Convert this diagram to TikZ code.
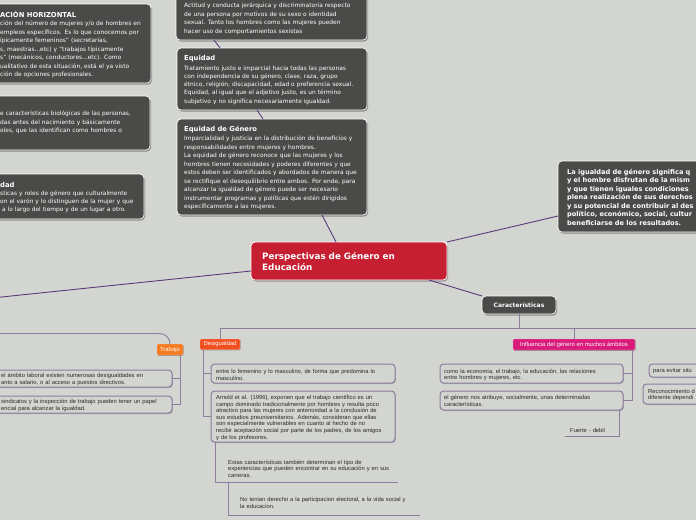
\documentclass[tikz,border=0pt]{standalone}
\usepackage{fontspec}
\setmainfont{DejaVu Sans}
\newfontfamily\lowf{Liberation Sans}
\usetikzlibrary{shadows}
\definecolor{bg}{HTML}{D3D5D1}
\definecolor{dark}{HTML}{4A4A48}
\definecolor{mainline}{HTML}{5C3A7A}
\definecolor{treeline}{HTML}{8E7B9F}
\definecolor{centred}{HTML}{C61F32}
\definecolor{tagred}{HTML}{F24E1E}
\definecolor{tagorange}{HTML}{F47B20}
\definecolor{tagpink}{HTML}{D91B7B}
\definecolor{lowink}{HTML}{2A2A2A}
\begin{document}
\begin{tikzpicture}[x=1pt,y=-1pt,
  darkbox/.style={draw=white, line width=0.7pt, fill=dark, rounded corners=4pt, inner sep=0pt, outer sep=0pt, anchor=north west,
     drop shadow={shadow xshift=1pt, shadow yshift=-1.5pt, opacity=0.35, fill=black}},
  litebox/.style={draw=treeline, line width=1pt, fill=bg, rounded corners=3.5pt, inner sep=0pt, outer sep=0pt, anchor=north west,
     drop shadow={shadow xshift=0.8pt, shadow yshift=-1pt, opacity=0.2, fill=black}},
  tagbox/.style={fill=#1, draw=white!60!#1, line width=0.4pt, rounded corners=1pt, inner sep=0pt, outer sep=0pt, anchor=north west,
     font=\lowf\fontsize{5.9}{6.5}\selectfont, text=white,
     drop shadow={shadow xshift=0.6pt, shadow yshift=-0.8pt, opacity=0.3, fill=black}},
  bodytext/.style={font=\fontsize{5.9}{8.5}\selectfont, text=white, align=left, inner sep=0pt, anchor=base west, text width=300pt},
  lowtext/.style={font=\lowf\fontsize{5.8}{6.6}\selectfont, text=lowink, align=left, inner sep=0pt, anchor=base west, text width=300pt},
  titletext/.style={font=\bfseries\fontsize{6.8}{8}\selectfont, text=white, inner sep=0pt, anchor=base west},
  main/.style={draw=mainline, line width=0.9pt},
  tree/.style={draw=treeline, line width=0.9pt},
]
\useasboundingbox (0,0) rectangle (696,520);
\clip (0,0) rectangle (696,520);
\fill[bg] (0,0) rectangle (696,520);

% ---------- dark boxes ----------
\node[darkbox, minimum width=191pt, minimum height=79pt] (A) at (-40,4) {};
\node[titletext] (At) at (0,17.3) {ACIÓN HORIZONTAL};
\node[bodytext] (Ab) at (0,25.8) {ción del número de mujeres y/o de hombres en\\
empleos específicos. Es lo que conocemos por\\
ípicamente femeninos" (secretarias,\\
s, maestras...etc) y "trabajos típicamente\\
s" (mecánicos, conductores...etc). Como\\
ualitativo de esta situación, está el ya visto\\
ción de opciones profesionales.};

\node[darkbox, minimum width=190pt, minimum height=54pt] (B) at (-40,96) {};
\node[bodytext] (Bb) at (0,115.8) {e características biológicas de las personas,\\
das antes del nacimiento y básicamente\\
oles, que las identifican como hombres o};

\node[darkbox, minimum width=184pt, minimum height=45pt] (C) at (-40,174) {};
\node[titletext] (Ct) at (0,187) {dad};
\node[bodytext, font=\fontsize{5.9}{8.1}\selectfont] (Cb) at (0,195) {sticas y roles de género que culturalmente\\
on el varón y lo distinguen de la mujer y que\\
\ a lo largo del tiempo y de un lugar a otro.};

\node[darkbox, minimum width=191pt, minimum height=60pt] (D) at (176,-20) {};
\node[bodytext] (Db) at (184,7.8) {Actitud y conducta jerárquica y discriminatoria respecto\\
de una persona por motivos de su sexo o identidad\\
sexual. Tanto los hombres como las mujeres pueden\\
hacer uso de comportamientos sexistas};

\node[darkbox, minimum width=190pt, minimum height=62pt] (E) at (177,48) {};
\node[titletext] (Et) at (184,60.8) {Equidad};
\node[bodytext, font=\fontsize{5.9}{8.3}\selectfont] (Eb) at (184,70) {Tratamiento justo e imparcial hacia todas las personas\\
con independencia de su género, clase, raza, grupo\\
étnico, religión, discapacidad, edad o preferencia sexual.\\
Equidad, al igual que el adjetivo justo, es un término\\
subjetivo y no significa necesariamente igualdad.};

\node[darkbox, minimum width=190pt, minimum height=96pt] (F) at (177,119) {};
\node[titletext] (Ft) at (184,131.5) {Equidad de Género};
\node[bodytext] (Fb) at (184,140.8) {Imparcialidad y justicia en la distribución de beneficios y\\
responsabilidades entre mujeres y hombres.\\
La equidad de género reconoce que las mujeres y los\\
hombres tienen necesidades y poderes diferentes y que\\
estos deben ser identificados y abordados de manera que\\
se rectifique el desequilibrio entre ambos. Por ende, para\\
alcanzar la igualdad de género puede ser necesario\\
instrumentar programas y políticas que estén dirigidos\\
específicamente a las mujeres.};

\node[darkbox, minimum width=160pt, minimum height=71pt] (G) at (558,161) {};
\node[bodytext, font=\bfseries\fontsize{6.6}{8.5}\selectfont] (Gb) at (567,174.3) {La igualdad de género significa q\\
y el hombre disfrutan de la mism\\
y que tienen iguales condiciones\\
plena realización de sus derechos\\
y su potencial de contribuir al des\\
político, económico, social, cultur\\
beneficiarse de los resultados.};

% ---------- central and Caracteristicas ----------
\node[fill=centred, draw=white, line width=0.8pt, rounded corners=4pt, inner sep=0pt, outer sep=0pt, anchor=north west,
      minimum width=196pt, minimum height=38pt,
      drop shadow={shadow xshift=1pt, shadow yshift=-1.5pt, opacity=0.3, fill=black}] (H) at (251,242) {};
\node[bodytext, font=\bfseries\fontsize{8.8}{11}\selectfont] (Ht) at (262,259.4) {Perspectivas de Género en\\ Educación};

\node[darkbox, minimum width=74pt, minimum height=18pt, font=\bfseries\fontsize{6}{7}\selectfont, text=white] (I) at (482,296) {Características};

% ---------- tags ----------
\node[tagbox=tagred, minimum width=40pt, minimum height=10.5pt] (J) at (200,339) {Desigualdad};
\node[tagbox=tagorange, minimum width=26pt, minimum height=11pt] (L) at (157,344) {Trabajo};
\node[tagbox=tagpink, minimum width=122pt, minimum height=11pt] (K) at (513,339) {Influencia del género en muchos ámbitos};

% ---------- light boxes ----------
\node[litebox, minimum width=192pt, minimum height=17pt] (T1) at (-20,370) {};
\node[lowtext] (T1t) at (1,377.6) {el ámbito laboral existen numerosas desigualdades en\\
anto a salario, o al acceso a puestos directivos.};
\node[litebox, minimum width=192pt, minimum height=17pt] (T2) at (-20,396) {};
\node[lowtext] (T2t) at (1,403.6) {sindicatos y la inspección de trabajo pueden tener un papel\\
encial para alcanzar la igualdad.};

\node[litebox, minimum width=184pt, minimum height=19pt] (M) at (211,364) {};
\node[lowtext] (Mt) at (216,373.5) {entre lo femenino y lo masculino, de forma que predomina lo\\
masculino.};
\node[litebox, minimum width=184pt, minimum height=51pt] (N) at (211,391) {};
\node[lowtext] (Nt) at (216,399.5) {Arnold et al. (1996), exponen que el trabajo científico es un\\
campo dominado tradicionalmente por hombres y resulta poco\\
atractivo para las mujeres con anterioridad a la conclusión de\\
sus estudios preuniversitarios. Además, consideran que ellas\\
son especialmente vulnerables en cuanto al hecho de no\\
recibir aceptación social por parte de los padres, de los amigos\\
y de los profesores.};

\node[lowtext] (Es) at (228,464) {Estas características también determinan el tipo de\\
experiencias que pueden encontrar en su educación y en sus\\
carreras.};
\coordinate (EsR) at (398,482);
\node[lowtext] (No) at (240,501.8) {No tenian derecho a la participacion electoral, a la vida social y\\
la educacion.};
\coordinate (NoR) at (420,515);

\node[litebox, minimum width=183pt, minimum height=19pt] (O) at (440,364) {};
\node[lowtext] (Ot) at (444,373.3) {como la economía, el trabajo, la educación, las relaciones\\
entre hombres y mujeres, etc.};
\node[litebox, minimum width=183pt, minimum height=19pt] (P) at (440,391) {};
\node[lowtext] (Pt) at (444,399.6) {el género nos atribuye, socialmente, unas determinadas\\
características.};
\node[lowtext, text width=60pt] (Fu) at (570,432.8) {Fuerte - debil};
\coordinate (FuL) at (565,436);

\node[litebox, minimum width=70pt, minimum height=13pt] (Q) at (649,364) {};
\node[lowtext] (Qt) at (653,372.9) {para evitar situ};
\node[litebox, minimum width=70pt, minimum height=20pt] (R) at (643,384) {};
\node[lowtext] (Rt) at (648,393.2) {Reconocimiento d\\ diferente dependi};

% ---------- main connectors ----------
\coordinate (HL) at (-10,298.2);
\draw[main] ([xshift=38pt]D.south west) -- ([xshift=43pt]E.north west);
\draw[main] ([xshift=80pt]E.south west) -- ([xshift=86pt]F.north west);
\draw[main] ([xshift=145pt]F.south west) -- ([xshift=85pt]H.north west);
\draw[main] (H.north east) -- ([yshift=-55pt]G.north west);
\draw[main] ([yshift=-10pt]H.west) -- (HL);
\draw[main] ([xshift=-18pt]H.south east) -- (I.north west);

% ---------- tree connectors ----------
\coordinate (bar) at ([yshift=-14pt]I.south);
\coordinate (barR) at (700,328);
\draw[tree] (I.south) -- (bar);
\draw[tree] (J.north) |- (barR);
\draw[tree] (K.north) -- (K.north |- bar);

\coordinate (trL) at (-5,333.5);
\draw[tree] (trL) -- ++(163,0) .. controls +(8,0) and +(0,-6) .. (L.north);
\draw[tree] ([xshift=10pt]L.south) -- ([xshift=10pt]L.south |- T2.east) -- (T2.east);
\draw[tree] ([xshift=10pt]L.south |- T1.east) -- (T1.east);

\draw[tree] ([xshift=3pt]J.south west) |- (N.west);
\draw[tree] ([xshift=3pt]J.south west |- M.west) -- (M.west);
\draw[tree] ([xshift=4pt]N.south west) |- (EsR);
\draw[tree] (Es.west |- EsR) |- (NoR);

\draw[tree] ([xshift=-3pt]K.south east) |- (P.east);
\draw[tree] ([xshift=-3pt]K.south east |- O.east) -- (O.east);
\draw[tree] ([xshift=-4pt]P.south east) |- (FuL);
\end{tikzpicture}
\end{document}
